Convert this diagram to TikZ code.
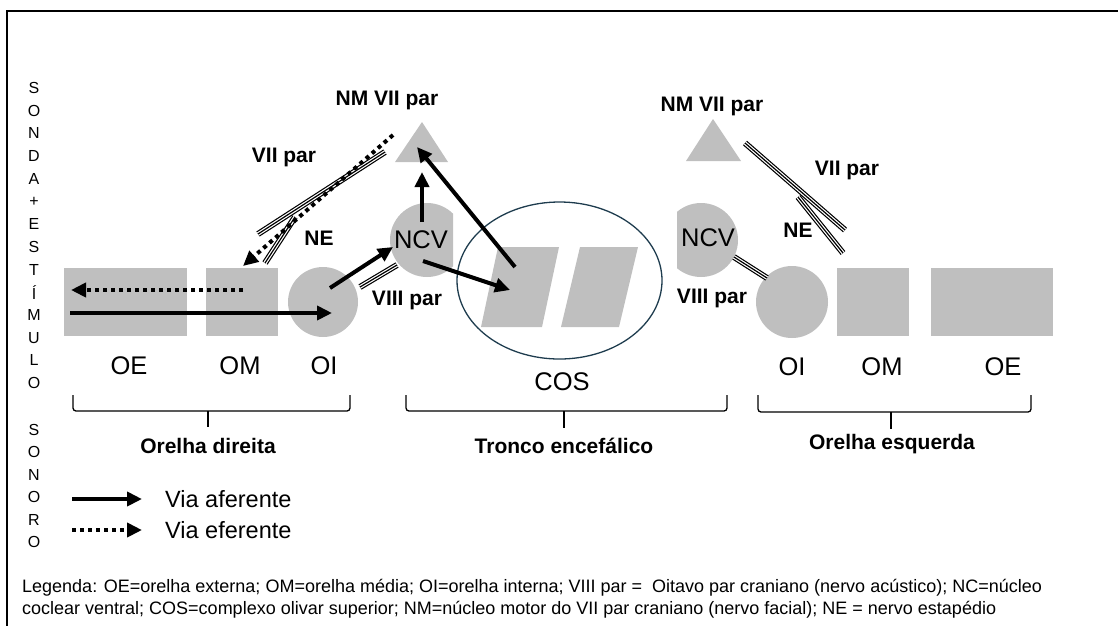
\documentclass[tikz,border=0pt]{standalone}
\usepackage{fontspec}
\setmainfont{Liberation Sans}
\usetikzlibrary{arrows.meta,shapes.geometric}
\definecolor{shapegray}{RGB}{191,191,191}
\definecolor{ellcol}{RGB}{30,60,78}
\begin{document}
\begin{tikzpicture}[x=1pt,y=-1pt,
  rectshape/.style={rectangle, fill=shapegray, draw=none, inner sep=0pt, minimum height=68pt},
  circshape/.style={circle, fill=shapegray, draw=none, inner sep=0pt, minimum size=70pt},
  bigtxt/.style={inner sep=0pt, font=\fontsize{25.5}{28}\selectfont},
  boldtxt/.style={inner sep=0pt, font=\fontsize{21}{24}\selectfont\bfseries},
  vtxt/.style={inner sep=0pt, font=\fontsize{16}{18}\selectfont},
  legtxt/.style={inner sep=0pt, anchor=west, font=\fontsize{23.5}{26}\selectfont},
  notetxt/.style={inner sep=0pt, anchor=west, font=\fontsize{18}{21}\selectfont},
  afferent/.style={line width=4pt, -{Triangle[length=15pt,width=14pt]}},
  efferent/.style={line width=4pt, dash pattern=on 4pt off 4pt, -{Triangle[length=15pt,width=14pt]}},
  tripleline/.style={line width=6pt, draw=black, postaction={draw=white, line width=3.6pt}, postaction={draw=black, line width=1.2pt}},
  bracketline/.style={line width=1.3pt, rounded corners=3pt},
]
\useasboundingbox (0,0) rectangle (1118,625);
% frame
\draw[line width=1.5pt] (7,630) -- (7,11) -- (1125,11);

% vertical text
\foreach \l [count=\i] in {S,O,N,D,A,+,E,S,T,Í,M,U,L,O}
  \node[vtxt] (va\i) at (34,{88+22.7*(\i-1)}) {\l};
\foreach \l [count=\i] in {S,O,N,O,R,O}
  \node[vtxt] (vb\i) at (34,{430+22.4*(\i-1)}) {\l};

% ---------- right ear (left side of picture)
\node[rectshape, minimum width=123pt] (oeL) at (125.5,302) {};
\node[rectshape, minimum width=72pt] (omL) at (242,302) {};
\node[circshape] (oiL) at (323,302) {};
\begin{scope}
  \clip (380,190) rectangle (453,290);
  \node[circshape, minimum size=74pt] (ncvLc) at (427,240) {};
\end{scope}
\fill[shapegray] (395,162) -- (448,162) -- (422,122) -- cycle;
\node[bigtxt] (ncvL) at (421,240) {NCV};

% ---------- brainstem
\fill[shapegray] (481,327) -- (542,327) -- (559,247) -- (498,247) -- cycle;
\fill[shapegray] (561,327) -- (619,327) -- (638,247) -- (580,247) -- cycle;
\node[ellipse, draw=ellcol, line width=1.3pt, minimum width=205pt, minimum height=157pt, inner sep=0pt] (cos) at (559.5,280.5) {};

% ---------- left ear (right side of picture)
\node[circshape, minimum size=72pt] (oiR) at (792,302) {};
\node[rectshape, minimum width=72pt] (omR) at (873,302) {};
\node[rectshape, minimum width=122pt] (oeR) at (992,302) {};
\begin{scope}
  \clip (677,190) rectangle (760,290);
  \node[circshape, minimum size=74pt] (ncvRc) at (701,240) {};
\end{scope}
\fill[shapegray] (686,161) -- (741,161) -- (713,119) -- cycle;
\node[bigtxt] (ncvR) at (708,238) {NCV};

% ---------- labels
\node[boldtxt] (nmL) at (387,100) {NM VII par};
\node[boldtxt] (nmR) at (712,106) {NM VII par};
\node[boldtxt] (seteL) at (284,157) {VII par};
\node[boldtxt] (seteR) at (847,170) {VII par};
\node[boldtxt] (neL) at (319,238) {NE};
\node[boldtxt] (neR) at (798,230) {NE};
\node[boldtxt] (oitoL) at (407,300) {VIII par};
\node[boldtxt] (oitoR) at (712,298) {VIII par};

\node[bigtxt] (lOEL) at (129,366) {OE};
\node[bigtxt] (lOML) at (240,366) {OM};
\node[bigtxt] (lOIL) at (324,366) {OI};
\node[bigtxt] (lCOS) at (562,382) {COS};
\node[bigtxt] (lOIR) at (792,367) {OI};
\node[bigtxt] (lOMR) at (882,367) {OM};
\node[bigtxt] (lOER) at (1003,367) {OE};

% ---------- nerves (triple lines)
\coordinate (n1a) at (385,152); \coordinate (n1b) at (258,234);
\coordinate (n2a) at (295,217); \coordinate (n2b) at (265,263);
\coordinate (n3a) at (360,287); \coordinate (n3b) at (397,265);
\coordinate (n4a) at (745,143); \coordinate (n4b) at (845,230);
\coordinate (n5a) at (798,197); \coordinate (n5b) at (843,253);
\coordinate (n6a) at (734,257); \coordinate (n6b) at (767,278);
\draw[tripleline] (n1a) -- (n1b);
\draw[tripleline] (n2a) -- (n2b);
\draw[tripleline] (n3a) -- (n3b);
\draw[tripleline] (n4a) -- (n4b);
\draw[tripleline] (n5a) -- (n5b);
\draw[tripleline] (n6a) -- (n6b);

% ---------- pathways
\coordinate (a1s) at (70,313);  \coordinate (a1e) at (332,313);
\coordinate (a2s) at (330,288); \coordinate (a2e) at (393,247);
\coordinate (a3s) at (422,222); \coordinate (a3e) at (422,172);
\coordinate (a4s) at (423,261); \coordinate (a4e) at (510,290);
\coordinate (a5s) at (515,267); \coordinate (a5e) at (417,147);
\coordinate (d1s) at (393,135); \coordinate (d1e) at (243,266);
\coordinate (d2s) at (243,290); \coordinate (d2e) at (71,290);
\draw[afferent] (a1s) -- (a1e);
\draw[afferent] (a2s) -- (a2e);
\draw[afferent] (a3s) -- (a3e);
\draw[afferent] (a4s) -- (a4e);
\draw[afferent] (a5s) -- (a5e);
\draw[efferent] (d1s) -- (d1e);
\draw[efferent] (d2s) -- (d2e);

% ---------- brackets
\draw[bracketline] (73,395) -- (73,411) -- (350,411) -- (350,395);
\draw[line width=1.3pt] (208,411) -- (208,427);
\draw[bracketline] (406,395) -- (406,411) -- (727,411) -- (727,395);
\draw[line width=1.3pt] (564,411) -- (564,428);
\draw[bracketline] (758,395) -- (758,412) -- (1031,412) -- (1031,395);
\draw[line width=1.3pt] (891,412) -- (891,429);
\node[boldtxt] (bL) at (208,446) {Orelha direita};
\node[boldtxt] (bM) at (564,446) {Tronco encefálico};
\node[boldtxt] (bR) at (892,444) {Orelha esquerda};

% ---------- legend
\coordinate (l1s) at (72,499); \coordinate (l1e) at (142,499);
\coordinate (l2s) at (72,530); \coordinate (l2e) at (142,530);
\draw[afferent] (l1s) -- (l1e);
\draw[efferent] (l2s) -- (l2e);
\node[legtxt] (lg1) at (165,499) {Via aferente};
\node[legtxt] (lg2) at (165,530) {Via eferente};

\node[notetxt] (note1) at (22,588) {Legenda: OE=orelha externa; OM=orelha média; OI=orelha interna; VIII par =\ \ Oitavo par craniano (nervo acústico); NC=núcleo};
\node[notetxt] (note2) at (22,610) {coclear ventral; COS=complexo olivar superior; NM=núcleo motor do VII par craniano (nervo facial); NE = nervo estapédio};
\end{tikzpicture}
\end{document}
